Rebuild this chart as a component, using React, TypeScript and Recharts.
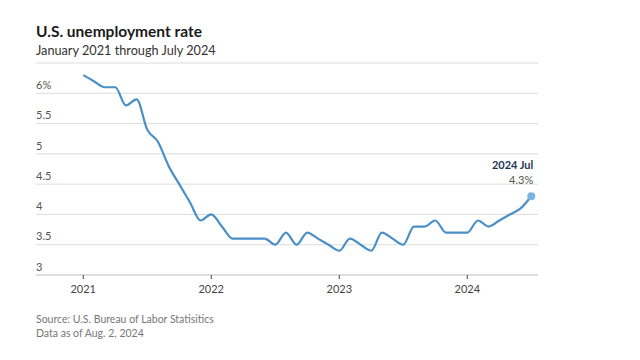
import React from "react";
import {
  LineChart,
  Line,
  XAxis,
  YAxis,
  CartesianGrid,
  ReferenceDot,
} from "recharts";

const years = [2021, 2022, 2023, 2024];
const monthNames = ["Jan", "Feb", "Mar", "Apr", "May", "Jun", "Jul", "Aug", "Sep", "Oct", "Nov", "Dec"];

const rates2021 = [6.3, 6.2, 6.1, 6.1, 5.8, 5.9, 5.4, 5.2, 4.8, 4.5, 4.2, 3.9];
const rates2022 = [4.0, 3.8, 3.6, 3.6, 3.6, 3.6, 3.5, 3.7, 3.5, 3.7, 3.6, 3.5];
const rates2023 = [3.4, 3.6, 3.5, 3.4, 3.7, 3.6, 3.5, 3.8, 3.8, 3.9, 3.7, 3.7];
const rates2024 = [3.7, 3.9, 3.8, 3.9, 4.0, 4.1, 4.3];

const yTicks = [3, 3.5, 4, 4.5, 5, 5.5, 6];
const xTicks = [0, 12, 24, 36];

const allRates = [rates2021, rates2022, rates2023, rates2024];
const data: { i: number; label: string; rate: number }[] = [];
allRates.forEach((arr, yi) => {
  arr.forEach((v, mi) => {
    data.push({ i: data.length, label: `${years[yi]} ${monthNames[mi]}`, rate: v });
  });
});
const last = data[data.length - 1];

const FONT = "Lato, 'Open Sans', sans-serif";
const LINE = "#4a8fc6";

const YTick = (props: any) => {
  const { x, y, payload } = props;
  const v = payload.value;
  return (
    <text
      x={x}
      y={y - 7}
      fill="#555"
      fontSize={11}
      fontFamily={FONT}
      textAnchor="start"
      dominantBaseline="middle"
    >
      {v === 6 ? "6%" : String(v)}
    </text>
  );
};

const EndLabel = (props: any) => {
  const vb = props.viewBox || {};
  const cx = (vb.x ?? 0) + (vb.width ?? 0) / 2;
  const cy = (vb.y ?? 0) + (vb.height ?? 0) / 2;
  return (
    <g>
      <text x={cx + 2} y={cy - 27} textAnchor="end" fontFamily={FONT} fontSize={11} fontWeight={700} fill="#1f3556">
        {last.label}
      </text>
      <text x={cx + 2} y={cy - 12} textAnchor="end" fontFamily={FONT} fontSize={11} fill="#555">
        {`${last.rate}%`}
      </text>
    </g>
  );
};

export default function App() {
  return (
    <div
      style={{
        position: "absolute",
        left: 0,
        top: 0,
        width: 640,
        height: 360,
        background: "#fff",
        fontFamily: FONT,
      }}
    >
      <div style={{ position: "absolute", left: 36, top: 22, fontSize: 15.5, fontWeight: 700, color: "#1a1a1a" }}>
        U.S. unemployment rate
      </div>
      <div style={{ position: "absolute", left: 36, top: 42, fontSize: 12.7, color: "#333" }}>
        January 2021 through July 2024
      </div>
      <div style={{ position: "absolute", left: 36, top: 313, fontSize: 10.5, color: "#777", lineHeight: "13.5px" }}>
        Source: U.S. Bureau of Labor Statisitics
        <br />
        Data as of Aug. 2, 2024
      </div>
      <div style={{ position: "absolute", left: 0, top: 0 }}>
        <LineChart width={640} height={360} data={data} margin={{ top: 63, right: 102, bottom: 55, left: 0 }}>
          <CartesianGrid horizontal vertical={false} stroke="#dcdcdc" />
          <XAxis
            dataKey="i"
            type="number"
            domain={[-4.43, 42.63]}
            ticks={xTicks}
            allowDataOverflow
            tickFormatter={(v: number) => String(years[Math.round(v / 12)])}
            axisLine={{ stroke: "#d0d0d0" }}
            tickLine={{ stroke: "#444" }}
            tickSize={4}
            tickMargin={6}
            height={30}
            tick={{ fill: "#444", fontSize: 11, fontFamily: FONT }}
          />
          <YAxis
            type="number"
            domain={[3, 6.5]}
            ticks={yTicks}
            width={36}
            axisLine={false}
            tickLine={false}
            tickSize={0}
            tickMargin={0}
            tick={YTick}
            interval={0}
          />
          <Line
            type="monotone"
            dataKey="rate"
            stroke={LINE}
            strokeWidth={2.2}
            dot={false}
            isAnimationActive={false}
          />
          <ReferenceDot
            x={last.i}
            y={last.rate}
            r={4}
            fill="#7db3e0"
            stroke="none"
            label={<EndLabel />}
          />
        </LineChart>
      </div>
    </div>
  );
}
